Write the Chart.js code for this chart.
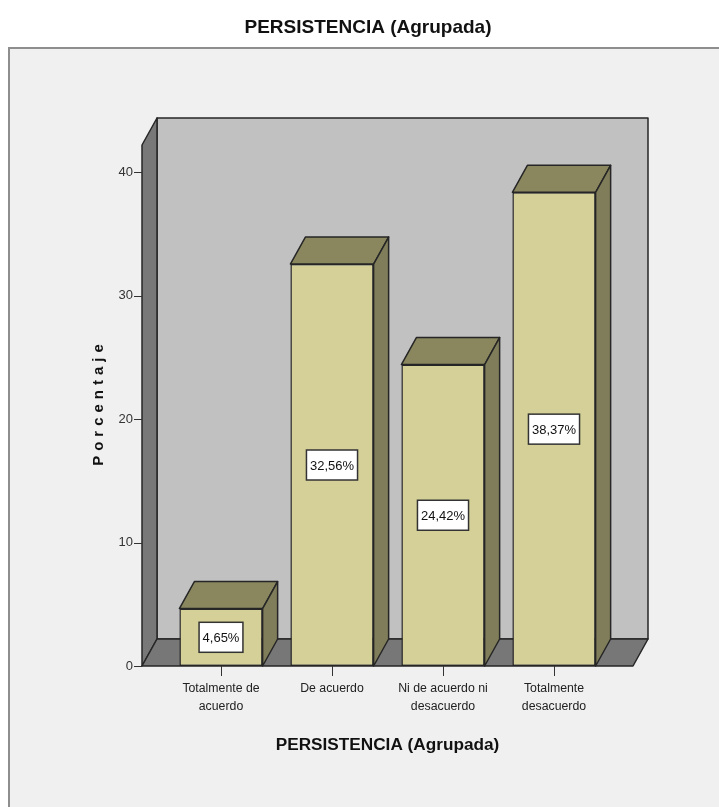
<!DOCTYPE html>
<html>
<head>
<meta charset="utf-8">
<script src="https://cdn.jsdelivr.net/npm/chart.js@4.4.0/dist/chart.umd.min.js"></script>
<style>
  html, body { margin: 0; padding: 0; background: #ffffff; }
</style>
</head>
<body>
<canvas id="chart" width="719" height="807"></canvas>
<script>
// datos del grafico
const categories = [
    ['Totalmente de', 'acuerdo'],
    ['De acuerdo'],
    ['Ni de acuerdo ni', 'desacuerdo'],
    ['Totalmente', 'desacuerdo']
];
const percentages = [4.65, 32.56, 24.42, 38.37];
const yTicks = [0, 10, 20, 30, 40];
const yMax = 42.2;

const chartTitle = 'PERSISTENCIA (Agrupada)';
const yTitle = 'Porcentaje';

const narrow = "'Liberation Sans Narrow', 'Arial Narrow', 'Liberation Sans', Arial, sans-serif";
const plain = "'Liberation Sans', Arial, sans-serif";

// 3d look
const depthX = 15;
const depthY = 27;
const wallExt = 23.5;

const colours = {
    front: '#d4d097',
    top: '#8a875f',
    side: '#807e5a',
    outline: '#262626',
    backWall: '#c1c1c1',
    sideWall: '#787878',
    floor: '#777777',
    frameFill: '#f0f0f0',
    frameLine: '#8e8e8e'
};

function polygon(ctx, pts, fill, stroke, lw) {
    ctx.beginPath();
    ctx.moveTo(pts[0][0], pts[0][1]);
    for (let i = 1; i < pts.length; i++) ctx.lineTo(pts[i][0], pts[i][1]);
    ctx.closePath();
    ctx.fillStyle = fill;
    ctx.fill();
    if (stroke) {
        ctx.strokeStyle = stroke;
        ctx.lineWidth = lw || 1.5;
        ctx.lineJoin = 'round';
        ctx.stroke();
    }
}

function formatPct(v) {
    return v.toFixed(2).replace('.', ',') + '%';
}

const spss3d = {
    id: 'spss3d',
    beforeDraw(chart) {
        const ctx = chart.ctx;
        const area = chart.chartArea;
        const yScale = chart.scales.y;
        ctx.save();
        ctx.fillStyle = '#ffffff';
        ctx.fillRect(0, 0, chart.width, chart.height);

        // marco
        ctx.fillStyle = colours.frameFill;
        ctx.fillRect(9, 48, chart.width, chart.height);
        ctx.strokeStyle = colours.frameLine;
        ctx.lineWidth = 2;
        ctx.strokeRect(9, 48, chart.width + 20, chart.height + 20);

        const x0 = area.left - wallExt;
        const x1 = area.right + wallExt;
        const yb = yScale.getPixelForValue(0);
        const yt = area.top;

        // pared del fondo
        polygon(ctx, [[x0 + depthX, yt - depthY], [x1 + depthX, yt - depthY], [x1 + depthX, yb - depthY], [x0 + depthX, yb - depthY]],
            colours.backWall, colours.outline, 1.5);
        // pared lateral
        polygon(ctx, [[x0, yt], [x0 + depthX, yt - depthY], [x0 + depthX, yb - depthY], [x0, yb]],
            colours.sideWall, colours.outline, 1.5);
        // suelo
        polygon(ctx, [[x0, yb], [x0 + depthX, yb - depthY], [x1 + depthX, yb - depthY], [x1, yb]],
            colours.floor, colours.outline, 1.5);

        // marcas del eje y
        ctx.strokeStyle = '#333333';
        ctx.lineWidth = 1;
        yScale.ticks.forEach(t => {
            const py = Math.round(yScale.getPixelForValue(t.value)) + 0.5;
            ctx.beginPath();
            ctx.moveTo(x0 - 8, py);
            ctx.lineTo(x0, py);
            ctx.stroke();
        });
        ctx.restore();
    },
    beforeDatasetsDraw(chart) {
        const ctx = chart.ctx;
        ctx.save();
        chart.getDatasetMeta(0).data.forEach(bar => {
            const l = bar.x - bar.width / 2;
            const r = bar.x + bar.width / 2;
            const t = bar.y;
            const b = bar.base;
            polygon(ctx, [[l, t], [l + depthX, t - depthY], [r + depthX, t - depthY], [r, t]], colours.top, colours.outline, 1.5);
            polygon(ctx, [[r, t], [r + depthX, t - depthY], [r + depthX, b - depthY], [r, b]], colours.side, colours.outline, 1.5);
        });
        ctx.restore();
    },
    afterDatasetsDraw(chart) {
        const ctx = chart.ctx;
        ctx.save();
        ctx.font = '13px ' + narrow;
        ctx.textAlign = 'center';
        ctx.textBaseline = 'middle';
        chart.getDatasetMeta(0).data.forEach((bar, i) => {
            const txt = formatPct(percentages[i]);
            const w = ctx.measureText(txt).width + 7;
            const h = 30;
            const cy = (bar.y + bar.base) / 2;
            ctx.fillStyle = '#ffffff';
            ctx.fillRect(bar.x - w / 2, cy - h / 2, w, h);
            ctx.strokeStyle = '#333333';
            ctx.lineWidth = 1.5;
            ctx.strokeRect(bar.x - w / 2, cy - h / 2, w, h);
            ctx.fillStyle = '#111111';
            ctx.fillText(txt, bar.x, cy + 1);
        });
        ctx.restore();
    },
    afterDraw(chart) {
        const ctx = chart.ctx;
        ctx.save();
        ctx.translate(98.5, 405);
        ctx.rotate(-Math.PI / 2);
        ctx.font = 'bold 15px ' + plain;
        ctx.letterSpacing = '5px';
        ctx.textAlign = 'center';
        ctx.textBaseline = 'middle';
        ctx.fillStyle = '#111111';
        ctx.fillText(yTitle, 2.5, 0);
        ctx.restore();
    }
};

new Chart(document.getElementById('chart'), {
    type: 'bar',
    data: {
        labels: categories,
        datasets: [{
            data: percentages,
            backgroundColor: colours.front,
            borderColor: colours.outline,
            borderWidth: 1.5,
            borderSkipped: false,
            barPercentage: 0.75,
            categoryPercentage: 1
        }]
    },
    options: {
        responsive: false,
        animation: false,
        devicePixelRatio: 1,
        layout: {
            padding: { left: 100, right: 83, top: 0, bottom: 0 }
        },
        plugins: {
            legend: { display: false },
            tooltip: { enabled: false },
            title: {
                display: true,
                text: chartTitle,
                color: '#111111',
                font: { family: narrow, size: 19, weight: 'bold', lineHeight: 1.2 },
                padding: { top: 16.1, bottom: 106.1 }
            }
        },
        scales: {
            x: {
                offset: true,
                afterFit(scale) { scale.height = 141; },
                grid: {
                    display: true,
                    drawOnChartArea: false,
                    drawTicks: true,
                    tickLength: 10,
                    offset: false,
                    color: '#333333'
                },
                border: { display: false },
                ticks: {
                    padding: 4,
                    color: '#222222',
                    maxRotation: 0,
                    autoSkip: false,
                    font: { family: narrow, size: 12.3, lineHeight: 1.46 }
                },
                title: {
                    display: true,
                    text: chartTitle,
                    color: '#111111',
                    font: { family: narrow, size: 17.2, weight: 'bold', lineHeight: 1.2 },
                    padding: { top: 0, bottom: 51.7 }
                }
            },
            y: {
                min: 0,
                max: yMax,
                afterFit(scale) { scale.width = 65.5; },
                afterBuildTicks(scale) {
                    scale.ticks = yTicks.map(v => ({ value: v }));
                },
                grid: { display: false, drawTicks: false },
                border: { display: false },
                ticks: {
                    padding: 32.5,
                    color: '#333333',
                    font: { family: narrow, size: 13 }
                }
            },
            // eje vacio a la derecha, solo reserva espacio
            yRight: {
                position: 'right',
                afterFit(scale) { scale.width = 26.5; },
                grid: { display: false },
                border: { display: false },
                ticks: { display: false }
            }
        }
    },
    plugins: [spss3d]
});
</script>
</body>
</html>
